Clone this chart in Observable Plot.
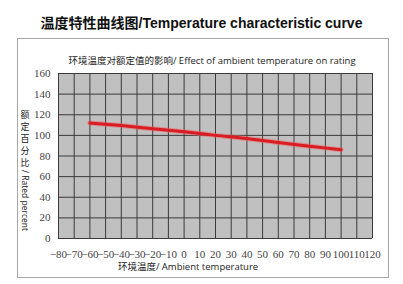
<!DOCTYPE html>
<html>
<head>
<meta charset="utf-8">
<script src="https://cdn.jsdelivr.net/npm/d3@7"></script>
<script src="https://cdn.jsdelivr.net/npm/@observablehq/plot@0.6"></script>
<style>
  html, body { margin: 0; padding: 0; background: #fff; }
  body { position: relative; width: 403px; height: 284px; overflow: hidden; }
  #title { height: 38px; font: bold 14px "Liberation Sans", "Noto Sans CJK SC", sans-serif; line-height: 47px; text-align: center; color: #111; white-space: nowrap; }
  #frame { position: absolute; left: 17px; top: 38px; width: 370px; height: 238px; border: 1px solid #a8a8a8; pointer-events: none; }
  #subtitle { position: absolute; left: 0; width: 424px; top: 53px; text-align: center; font-size: 9.5px; color: #222; white-space: nowrap; }
  #xlabel { position: absolute; left: 0; width: 376px; top: 259px; text-align: center; font-size: 9.5px; color: #222; white-space: nowrap; }
  #ylabel { position: absolute; left: 19px; top: 109px; width: 12px; font-size: 9px; color: #222; text-align: center; }
  #ylabel .zh { display: block; height: 12px; line-height: 12px; overflow: visible; }
  #ylabel .en { display: block; writing-mode: vertical-rl; white-space: nowrap; margin: 1px auto 0; font-size: 8.5px; }
  .zh { font-family: "Noto Sans CJK SC", sans-serif; }
  .en { font-family: "Open Sans", "Noto Sans", sans-serif; }
  #chart svg { display: block; }
</style>
</head>
<body>
<div id="title">温度特性曲线图/Temperature characteristic curve</div>
<div id="chart"></div>
<div id="frame"></div>
<div id="subtitle"><span class="zh">环境温度对额定值的影响</span><span class="en">/ Effect of ambient temperature on rating</span></div>
<div id="xlabel"><span class="zh">环境温度</span><span class="en">/ Ambient temperature</span></div>
<div id="ylabel"><span class="zh">额</span><span class="zh">定</span><span class="zh">百</span><span class="zh">分</span><span class="zh">比</span><span class="en">/ Rated percent</span></div>
<script>
const temperatures = [-60, -40, -20, 0, 20, 40, 60, 80, 100];
const ratedPercent = [112, 109.5, 106.5, 103.5, 100, 97, 93, 89.5, 86];
const xTicks = [-80, -70, -60, -50, -40, -30, -20, -10, 0, 10, 20, 30, 40, 50, 60, 70, 80, 90, 100, 110, 120];
const yTicks = [0, 20, 40, 60, 80, 100, 120, 140, 160];

const data = temperatures.map((t, i) => ({t, v: ratedPercent[i]}));

const chart = Plot.plot({
  width: 403,
  height: 246,
  marginLeft: 58,
  marginRight: 31,
  marginTop: 35,
  marginBottom: 46,
  style: {fontFamily: "Liberation Serif", fontSize: "11px", color: "#444", background: "transparent"},
  x: {domain: [-80, 120], ticks: xTicks, tickSize: 0, tickPadding: 12, label: null, tickFormat: d => (d < 0 ? "\u2212" + Math.abs(d) : String(d))},
  y: {domain: [0, 160], ticks: yTicks, tickSize: 0, tickPadding: 8, label: null},
  marks: [
    Plot.frame({fill: "#c0c0c0", stroke: null}),
    Plot.gridX(xTicks, {stroke: "#3a3a3a", strokeOpacity: 1, strokeWidth: 1}),
    Plot.gridY(yTicks, {stroke: "#3a3a3a", strokeOpacity: 1, strokeWidth: 1}),
    Plot.line(data, {x: "t", y: "v", stroke: "#f26060", strokeWidth: 5, strokeOpacity: 0.5, curve: "monotone-x"}),
    Plot.line(data, {x: "t", y: "v", stroke: "#d81e24", strokeWidth: 3, curve: "monotone-x"})
  ]
});
chart.querySelectorAll("text").forEach(t => t.style.fontFamily = "'Liberation Serif', 'DejaVu Serif', serif");
document.getElementById("chart").appendChild(chart);
</script>
</body>
</html>
